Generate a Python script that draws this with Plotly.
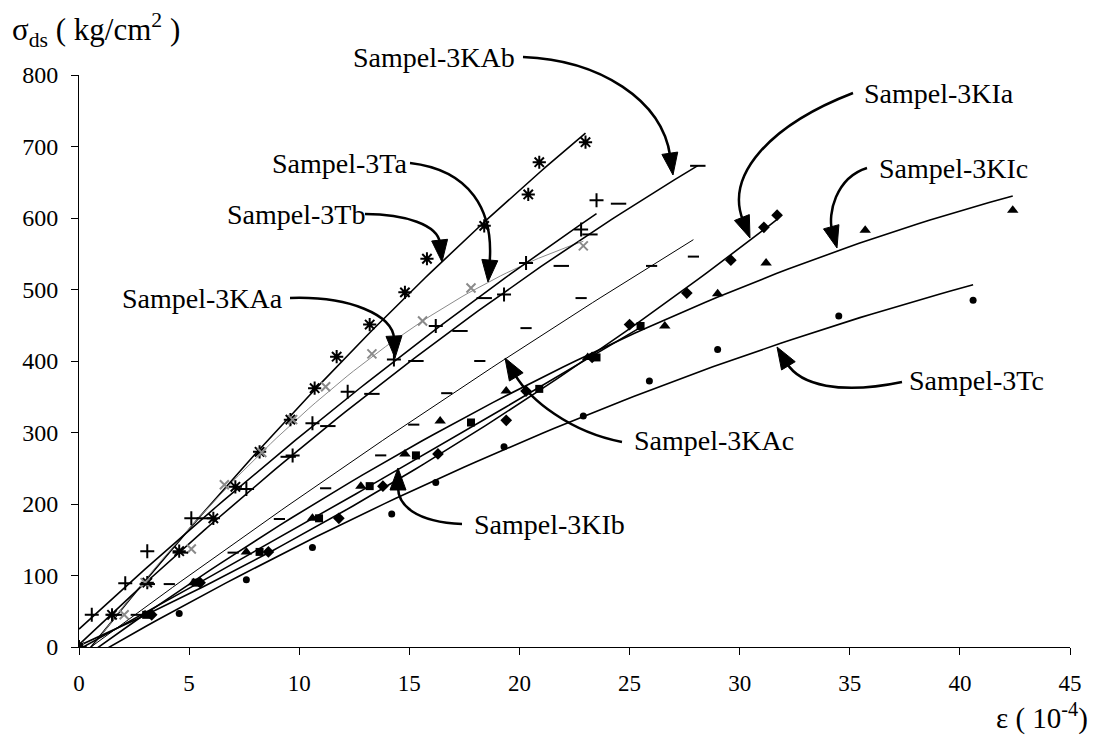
import numpy as np
import plotly.graph_objects as go

# ---------------- data ----------------
tb_x = [0, 1.5, 3.1, 4.55, 6.1, 7.1, 8.2, 9.6, 10.7, 11.7, 13.2, 14.8, 15.8, 18.4, 20.4, 20.9, 23.0]
tb_y = [0, 45, 90, 134, 180, 224, 273, 318, 362, 406, 451, 496, 543, 589, 633, 678, 706]

ta_x = [0, 2.05, 3.0, 5.1, 6.6, 8.3, 9.7, 11.2, 13.3, 15.6, 17.8, 22.9]
ta_y = [0, 45, 90, 137, 227, 272, 318, 364, 410, 456, 502, 561]

kaa_x = [0, 0.58, 2.1, 3.1, 5.1, 7.6, 9.7, 10.6, 12.2, 14.3, 16.2, 19.3, 20.3, 22.8, 23.5]
kaa_y = [0, 45, 89, 134, 180, 221, 268, 313, 357, 402, 449, 493, 537, 584, 625]

kab_x = [0, 1.6, 3.1, 4.6, 5.7, 7.6, 9.5, 11.3, 13.3, 15.3, 17.3, 18.4, 21.9, 23.2, 24.5, 28.1]
kab_y = [0, 45, 88, 132, 180, 221, 266, 309, 354, 400, 442, 488, 533, 577, 620, 673]

kac_x = [0, 2.6, 4.1, 7.0, 9.1, 11.2, 13.7, 15.2, 16.7, 18.2, 20.3, 22.8, 26.0, 27.9]
kac_y = [0, 45, 88, 132, 179, 222, 268, 311, 355, 400, 446, 488, 533, 546]

kia_x = [0, 3.3, 5.5, 8.6, 11.8, 13.8, 16.3, 19.4, 20.3, 23.3, 25.0, 27.6, 29.6, 31.1, 31.7]
kia_y = [0, 45, 90, 133, 180, 225, 270, 317, 358, 405, 451, 495, 541, 587, 604]

kib_x = [0, 3.05, 5.3, 8.2, 10.9, 13.2, 15.3, 17.8, 20.9, 23.5, 25.5]
kib_y = [0, 45, 90, 133, 180, 225, 268, 314, 361, 405, 449]

kic_x = [0, 3.0, 5.2, 7.6, 10.6, 12.8, 14.8, 16.4, 19.4, 23.1, 26.6, 29.0, 31.2, 35.7, 42.4]
kic_y = [0, 45, 90, 133, 180, 225, 270, 316, 358, 405, 449, 494, 537, 583, 611]

tc_x = [0, 4.55, 7.6, 10.6, 14.2, 16.2, 19.3, 22.9, 25.9, 29.0, 34.5, 40.6]
tc_y = [0, 47, 94, 139, 186, 230, 280, 323, 372, 416, 463, 485]

x_ticks = [0, 5, 10, 15, 20, 25, 30, 35, 40, 45]
y_ticks = [0, 100, 200, 300, 400, 500, 600, 700, 800]

series = [
    # name, x, y, symbol, size, marker color, line color, line width
    ("Sampel-3Tb", tb_x, tb_y, "asterisk-open", 11, "black", "black", 1.6),
    ("Sampel-3Ta", ta_x, ta_y, "x-thin-open", 9, "#8a8a8a", "#8a8a8a", 1.0),
    ("Sampel-3KAa", kaa_x, kaa_y, "cross-thin-open", 10, "black", "black", 1.6),
    ("Sampel-3KAb", kab_x, kab_y, "line-ew-open", 11, "black", "black", 1.6),
    ("Sampel-3KAc", kac_x, kac_y, "line-ew-open", 8, "black", "black", 1.0),
    ("Sampel-3KIa", kia_x, kia_y, "diamond", 9, "black", "black", 1.6),
    ("Sampel-3KIb", kib_x, kib_y, "square", 8, "black", "black", 1.6),
    ("Sampel-3KIc", kic_x, kic_y, "triangle-up", 10, "black", "black", 1.6),
    ("Sampel-3Tc", tc_x, tc_y, "circle", 7, "black", "black", 1.6),
]

FONT = "Liberation Serif"
OFF = 8                      # the page body margin that shifts the figure
W_IMG, H_IMG = 1096 - OFF, 743 - OFF
L, R, T, B = 79, 1070, 75, 647  # plot area in page pixels

fig = go.Figure()

# polynomial (2nd order) trend lines, as in the original spreadsheet chart
for name, xs, ys, sym, sz, mc, lc, lw in series:
    coef = np.polyfit(xs, ys, 2)
    fx = np.linspace(0, max(xs), 80)
    fy = np.polyval(coef, fx)
    fig.add_trace(go.Scatter(x=fx, y=fy, mode="lines",
                             line=dict(color=lc, width=lw),
                             showlegend=False, hoverinfo="skip"))

for name, xs, ys, sym, sz, mc, lc, lw in series:
    fig.add_trace(go.Scatter(x=xs, y=ys, mode="markers", name=name,
                             marker=dict(symbol=sym, size=sz, color=mc,
                                         line=dict(color=mc, width=2 if "open" in sym else 0)),
                             showlegend=False))

# ---------------- labels with curved arrows ----------------
def pp(px, py):
    return (px - L) / (R - L), (B - py) / (B - T)

labels = [
    # text, left x, center y, arrow start, ctrl1, ctrl2, tip  (page pixel positions)
    ("Sampel-3KAb", 351, 57, (523, 57), (600, 60), (662, 100), (673, 175)),
    ("Sampel-3Ta", 270, 163, (410, 163), (470, 170), (494, 210), (488, 282)),
    ("Sampel-3Tb", 225, 214, (365, 214), (405, 214), (438, 225), (442, 262)),
    ("Sampel-3KAa", 120, 298, (290, 298), (350, 296), (393, 315), (395, 358)),
    ("Sampel-3KIa", 862, 93, (853, 93), (770, 125), (725, 175), (750, 238)),
    ("Sampel-3KIc", 877, 168, (867, 168), (835, 178), (828, 215), (837, 248)),
    ("Sampel-3Tc", 907, 380, (902, 382), (840, 395), (800, 385), (777, 347)),
    ("Sampel-3KAc", 632, 441, (622, 442), (570, 432), (530, 400), (505, 358)),
    ("Sampel-3KIb", 472, 524, (462, 524), (415, 522), (398, 505), (398, 468)),
]

shapes = []
annotations = []
HEAD_LEN, HEAD_HALF = 22, 8
for text, tx, ty, s, c1, c2, tip in labels:
    annotations.append(dict(text=text, x=pp(tx, ty)[0], y=pp(tx, ty)[1],
                            xref="paper", yref="paper", xanchor="left", yanchor="middle",
                            showarrow=False, font=dict(family=FONT, size=28, color="black")))
    dx, dy = tip[0] - c2[0], tip[1] - c2[1]
    n = (dx * dx + dy * dy) ** 0.5
    ux, uy = dx / n, dy / n
    bx, by = tip[0] - ux * HEAD_LEN, tip[1] - uy * HEAD_LEN
    p = [pp(*s), pp(*c1), pp(*c2), pp(bx + ux * 3, by + uy * 3)]
    path = "M{:.5f},{:.5f} C{:.5f},{:.5f} {:.5f},{:.5f} {:.5f},{:.5f}".format(
        p[0][0], p[0][1], p[1][0], p[1][1], p[2][0], p[2][1], p[3][0], p[3][1])
    shapes.append(dict(type="path", path=path, xref="paper", yref="paper",
                       line=dict(color="black", width=2.5)))
    px_, py_ = -uy, ux
    h1 = pp(bx + px_ * HEAD_HALF, by + py_ * HEAD_HALF)
    h2 = pp(bx - px_ * HEAD_HALF, by - py_ * HEAD_HALF)
    h0 = pp(*tip)
    hp = "M{:.5f},{:.5f} L{:.5f},{:.5f} L{:.5f},{:.5f} Z".format(h0[0], h0[1], h1[0], h1[1], h2[0], h2[1])
    shapes.append(dict(type="path", path=hp, xref="paper", yref="paper",
                       fillcolor="black", line=dict(color="black", width=1)))

# axis titles
ax, ay = pp(10, 30)
annotations.append(dict(text="σ<sub>ds</sub> ( kg/cm<sup>2</sup> )", x=ax, y=ay,
                        xref="paper", yref="paper", xanchor="left", yanchor="middle",
                        showarrow=False, font=dict(family=FONT, size=31, color="black")))
bx_, by_ = pp(1090, 716)
annotations.append(dict(text="ε ( 10<sup>-4</sup>)", x=bx_, y=by_,
                        xref="paper", yref="paper", xanchor="right", yanchor="middle",
                        showarrow=False, font=dict(family=FONT, size=29, color="black")))

fig.update_layout(
    width=W_IMG, height=H_IMG,
    margin=dict(l=L - OFF, r=W_IMG - (R - OFF), t=T - OFF, b=H_IMG - (B - OFF), autoexpand=False),
    paper_bgcolor="white", plot_bgcolor="white",
    shapes=shapes, annotations=annotations,
    font=dict(family=FONT, color="black"),
    xaxis=dict(range=[0, 45], tickvals=x_ticks, ticktext=[str(v) for v in x_ticks],
               showgrid=False, zeroline=False, showline=True, linecolor="black", linewidth=1,
               ticks="outside", ticklen=7, tickcolor="black", tickwidth=1,
               tickfont=dict(family=FONT, size=23, color="black"), ticklabelstandoff=8),
    yaxis=dict(range=[0, 800], tickvals=y_ticks, ticktext=[str(v) for v in y_ticks],
               showgrid=False, zeroline=False, showline=True, linecolor="black", linewidth=1,
               ticks="outside", ticklen=7, tickcolor="black", tickwidth=1,
               tickfont=dict(family=FONT, size=24, color="black"), ticklabelstandoff=8),
)

fig.write_html("out.html")
